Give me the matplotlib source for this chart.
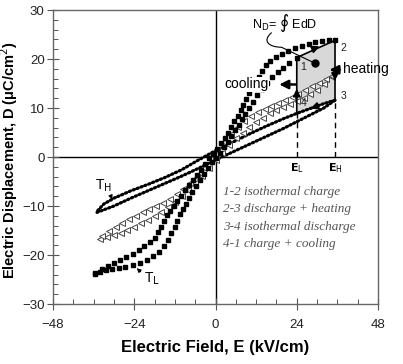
import numpy as np
import matplotlib
matplotlib.use("Agg")
import matplotlib.pyplot as plt
from matplotlib.path import Path
from matplotlib.patches import PathPatch, Polygon

# T_L loop (filled squares)
E_TL_desc = [35.3, 33.5, 31.5, 29.5, 27.5, 25.5, 23.5, 21.5, 19.5, 17.8,
             16.2, 15, 13.8, 12.7, 11.7, 10.8, 9.9, 9, 8.2, 7.4,
             6.5, 5.6, 4.7, 3.7, 2.7, 1.6, 0.5, -0.6, -1.8, -3,
             -4.2, -5.4, -6.6, -7.8, -9, -10.2, -11.3, -12.4, -13.4, -14.3,
             -15.2, -16, -16.9, -18, -19.4, -21, -22.7, -24.5, -26.3, -28.2,
             -30, -31.8, -33.6, -35.5]
D_TL_desc = [23.8, 23.8, 23.6, 23.4, 23.1, 22.7, 22.3, 21.7, 21, 20.4,
             19.6, 18.7, 17.6, 16.4, 15.2, 14.1, 13, 11.8, 10.7, 9.6,
             8.4, 7.3, 6.2, 5, 3.9, 2.8, 1.7, 0.7, -0.3, -1.4,
             -2.6, -3.6, -4.6, -5.7, -6.8, -7.9, -9.0, -10.0, -11.0, -11.9,
             -13.0, -14.2, -15.4, -16.6, -17.4, -18.2, -18.9, -19.7, -20.4, -21,
             -21.6, -22.2, -22.9, -23.6]
E_TL_asc = [-35.5, -34, -32.3, -30.6, -28.6, -26.7, -24.5, -22.3, -20.3, -18.4,
            -16.6, -15.2, -14, -13, -12.1, -11.3, -10.5, -9.6, -8.7, -7.8,
            -6.8, -5.8, -4.7, -3.5, -2.3, -1.1, 0.1, 1.3, 2.5, 3.6,
            4.7, 5.8, 6.8, 7.8, 8.8, 9.9, 11.1, 12.4, 13.8, 15.3,
            16.8, 18.4, 20, 21.8, 24]
D_TL_asc = [-23.9, -23.5, -23.1, -22.9, -22.7, -22.5, -22.1, -21.7, -21.1, -20.3,
            -19.3, -18.2, -16.9, -15.6, -14.3, -13, -11.7, -10.7, -9.6, -8.4,
            -7.2, -6.0, -4.7, -3.4, -2.2, -1.0, -0.2, 0.9, 2.0, 3.1,
            4.3, 5.5, 6.6, 7.7, 8.8, 10.0, 11.3, 12.6, 13.9, 15.2,
            16.3, 17.3, 18.2, 19.2, 20.3]

# intermediate loop (open triangles)
E_mid_desc = [34.5, 32.5, 30.5, 28.5, 26.5, 24.5, 22.5, 20.5, 18.5, 16.5,
              14.5, 12.5, 10.5, 8.5, 6.5, 4.5, 2.5, 0.5, -1.5, -3.5,
              -5.5, -7.5, -9.5, -11.5, -13.5, -15.5, -17.5, -19.5, -21.5, -23.5,
              -25.5, -27.5, -29.5, -31.5, -33.5]
D_mid_desc = [16.6, 16.0, 15.2, 14.4, 13.6, 12.9, 12.3, 11.7, 11.1, 10.5,
              9.9, 9.2, 8.3, 7.3, 6.1, 4.7, 3.1, 1.4, -0.4, -2.3,
              -4.0, -5.4, -6.6, -7.6, -8.5, -9.3, -10.0, -10.7, -11.3, -12.0,
              -12.7, -13.4, -14.3, -15.2, -16.2]
E_mid_asc = [-34, -32, -30, -28, -26, -24, -22, -20, -18, -16,
             -14, -12, -10, -8, -6, -4, -2, 0, 2, 4,
             6, 8, 10, 12, 14, 16, 18, 20, 22, 24,
             26, 28, 30, 32, 34.3]
D_mid_asc = [-16.8, -16.4, -16, -15.5, -14.9, -14.2, -13.5, -12.8, -12.0, -11.2,
             -10.3, -9.2, -8.0, -6.8, -5.4, -3.9, -2.3, -0.7, 0.9, 2.4,
             3.8, 5.0, 6.1, 7.1, 8.0, 8.9, 9.5, 10.2, 10.8, 11.4,
             12.0, 12.8, 13.7, 14.9, 16.3]

# T_H loop (small dots)
E_TH_asc = [-35, -30, -25, -20, -15, -10, -5, 0, 5, 10, 15, 20, 24, 28, 32, 35.3]
D_TH_asc = [-11.3, -10, -8.4, -6.9, -5.4, -3.9, -2.3, -0.6, 1, 2.6, 4.2, 5.8, 7.2, 8.6, 10, 11.6]
E_TH_desc = [35.3, 32, 28, 24, 20, 15, 10, 5, 0, -5, -10, -15, -20, -25, -30, -33, -35]
D_TH_desc = [11.6, 10.9, 9.9, 8.9, 7.8, 6.3, 4.7, 3, 1.3, -0.6, -2.6, -4.2, -5.6, -6.9, -8.4, -9.6, -11.1]

# Olsen cycle corners 1-2-3-4
E_cycle = [24, 35.3, 35.3, 24]
D_cycle = [20.3, 23.8, 11.6, 8.9]

steps = ["1-2 isothermal charge", "2-3 discharge + heating",
         "3-4 isothermal discharge", "4-1 charge + cooling"]

fig = plt.figure(figsize=(4.03, 3.64), dpi=100)
ax = fig.add_axes([0.1315, 0.1648, 0.8065, 0.8077])

# shaded work area
ax.add_patch(Polygon(list(zip(E_cycle, D_cycle)), closed=True, fc="#d8d8d8", ec="none", zorder=1))
ax.plot([E_cycle[3], E_cycle[0], E_cycle[1], E_cycle[2]],
        [D_cycle[3], D_cycle[0], D_cycle[1], D_cycle[2]], color="k", lw=1.2, zorder=4)
ax.plot([E_cycle[3], E_cycle[3]], [0, D_cycle[3]], color="k", lw=1, ls=(0, (4, 3)), zorder=2)
ax.plot([E_cycle[2], E_cycle[2]], [0, D_cycle[2]], color="k", lw=1, ls=(0, (4, 3)), zorder=2)

ax.axhline(0, color="k", lw=1, zorder=0)
ax.axvline(0, color="k", lw=1, zorder=0)

for E, D in [(E_TH_asc, D_TH_asc), (E_TH_desc, D_TH_desc)]:
    ax.plot(E, D, color="k", lw=2.3, ls=(0, (0.4, 0.9)), dash_capstyle="round", zorder=3)
for E, D in [(E_mid_asc, D_mid_asc), (E_mid_desc, D_mid_desc)]:
    ax.plot(E, D, ls="none", marker="<", ms=4, mfc="white", mec="#444444", mew=0.7, zorder=3)
for E, D in [(E_TL_asc, D_TL_asc), (E_TL_desc, D_TL_desc)]:
    ax.plot(E, D, ls="none", marker="s", ms=3.3, color="k", zorder=3)

# arrows along the cycle
arr = dict(arrowstyle="-|>", color="k", lw=1.2, mutation_scale=11)
ax.annotate("", xy=(24, 14.5), xytext=(24, 11.5), arrowprops=arr, zorder=5)
ax.annotate("", xy=(35.3, 15.0), xytext=(35.3, 18), arrowprops=arr, zorder=5)
ax.annotate("", xy=(31.5, 22.8), xytext=(28, 21.8), arrowprops=arr, zorder=5)
ax.annotate("", xy=(27.3, 9.7), xytext=(31, 10.6), arrowprops=arr, zorder=5)

big = dict(arrowstyle="-|>", color="k", lw=1.8, mutation_scale=13)
ax.annotate("", xy=(18.0, 14.8), xytext=(24.5, 14.8), arrowprops=big, zorder=5)
ax.annotate("", xy=(32.8, 17.8), xytext=(37.5, 17.8), arrowprops=big, zorder=5)
ax.text(15.6, 14.8, "cooling", ha="right", va="center", fontsize=10, family="Liberation Sans",
        zorder=6, bbox=dict(fc="white", ec="none", pad=0.5))
ax.text(37.8, 17.9, "heating", ha="left", va="center", fontsize=10, family="Liberation Sans",
        clip_on=False, zorder=6)

for lab, x, y in [("1", 24.9, 18.4), ("2", 36.9, 22.3), ("3", 36.9, 12.4), ("4", 25.2, 11.0)]:
    ax.text(x, y, lab, fontsize=7.5, ha="left", va="center", color="#222222", family="Liberation Sans")

# work label with curved leader
ax.text(20.5, 27.3, "N$_\\mathrm{D}$= \u222e EdD", ha="center", va="center", fontsize=9, family="Liberation Sans")
lead = Path([(16.6, 25.4), (13.5, 23.6), (16, 22.4), (19.5, 22.4), (29.5, 19.1)],
            [Path.MOVETO, Path.CURVE4, Path.CURVE4, Path.CURVE4, Path.LINETO])
ax.add_patch(PathPatch(lead, fc="none", ec="k", lw=0.8, zorder=5))
ax.plot([29.5], [19.1], "o", color="k", ms=5, zorder=6)

ax.text(24, -2.3, "E$_\\mathrm{L}$", ha="center", va="center", fontsize=8, fontweight="bold")
ax.text(35.3, -2.3, "E$_\\mathrm{H}$", ha="center", va="center", fontsize=8, fontweight="bold")

ax.text(-33.2, -5.8, "T$_\\mathrm{H}$", ha="center", va="center", fontsize=10, family="Liberation Sans")
ax.annotate("", xy=(-30.2, -9.2), xytext=(-31.3, -7.3),
            arrowprops=dict(arrowstyle="-|>", color="k", lw=0.8, mutation_scale=6))
ax.text(-18.8, -24.8, "T$_\\mathrm{L}$", ha="center", va="center", fontsize=10, family="Liberation Sans")
ax.annotate("", xy=(-23.9, -22.3), xytext=(-21.5, -23.8),
            arrowprops=dict(arrowstyle="-|>", color="k", lw=0.8, mutation_scale=6))

for i, s in enumerate(steps):
    ax.text(2.3, -7.1 - 3.55 * i, s, ha="left", va="center", fontsize=9.5,
            style="italic", family="Liberation Serif", color="#555555")

ax.set_xlim(-48, 48)
ax.set_ylim(-30, 30)
ax.set_xticks([-48, -24, 0, 24, 48])
ax.set_xticks(np.arange(-48, 49, 6), minor=True)
ax.set_yticks(np.arange(-30, 31, 10))
ax.set_yticks(np.arange(-30, 31, 2), minor=True)
ax.tick_params(which="major", direction="inout", length=8, width=0.8, color="#555555",
               labelsize=9.5, labelcolor="#222222")
ax.tick_params(which="minor", direction="in", length=3.5, width=0.7, color="#555555")
ax.tick_params(axis="x", pad=7)
ax.tick_params(axis="y", pad=2)
for lbl in ax.get_xticklabels() + ax.get_yticklabels():
    lbl.set_family("Liberation Sans")
for sp in ax.spines.values():
    sp.set_color("#666666")
    sp.set_linewidth(1.0)

ax.set_xlabel("Electric Field, E (kV/cm)", fontsize=12, fontweight="bold",
              family="Liberation Sans", labelpad=6)
ax.set_ylabel("Electric Displacement, D (\u03bcC/cm$^2$)", fontsize=10.5, fontweight="bold",
              family="Liberation Sans")
ax.yaxis.set_label_coords(-0.101, 0.49)

fig.savefig("out.png", dpi=100)
